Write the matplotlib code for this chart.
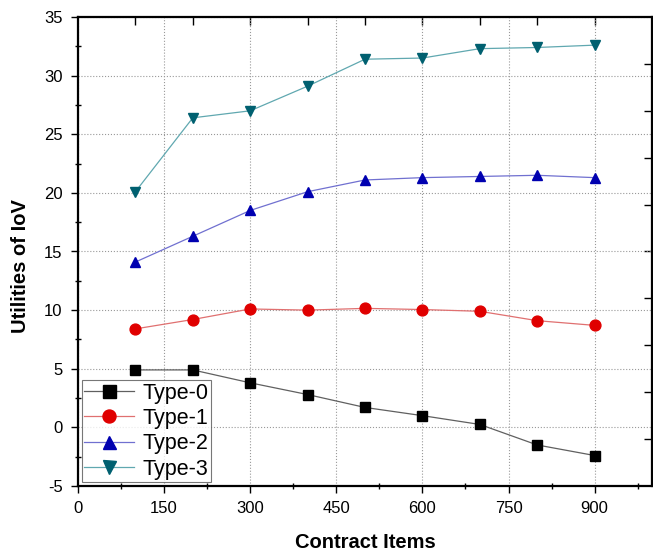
import matplotlib
matplotlib.use("Agg")
import matplotlib.pyplot as plt
import numpy as np

plt.rcParams['font.family'] = ['Liberation Sans', 'DejaVu Sans']
plt.rcParams['axes.unicode_minus'] = False

items = [100, 200, 300, 400, 500, 600, 700, 800, 900]
type0 = [4.9, 4.9, 3.8, 2.8, 1.7, 1.0, 0.25, -1.5, -2.4]
type1 = [8.4, 9.2, 10.1, 10.0, 10.15, 10.05, 9.9, 9.1, 8.7]
type2 = [14.1, 16.3, 18.5, 20.1, 21.1, 21.3, 21.4, 21.5, 21.3]
type3 = [20.1, 26.4, 27.0, 29.1, 31.4, 31.5, 32.3, 32.4, 32.6]

series = [
    ("Type-0", type0, 's', '#000000', '#606060'),
    ("Type-1", type1, 'o', '#e00000', '#e07070'),
    ("Type-2", type2, '^', '#0000b0', '#7070d0'),
    ("Type-3", type3, 'v', '#006070', '#60a8b0'),
]

fig = plt.figure(figsize=(6.53, 5.55), dpi=100)
ax = fig.add_axes([78 / 653, 1 - 486 / 555, 574 / 653, 469 / 555])

for name, vals, mk, mc, lc in series:
    ax.plot(items, vals, color=lc, lw=0.9, marker=mk, ms=7.8,
            markerfacecolor=mc, markeredgecolor=mc, label=name)

ax.set_xlim(0, 1000)
ax.set_ylim(-5, 35)
ax.set_xticks([0, 150, 300, 450, 600, 750, 900])
ax.set_xticks(np.arange(75, 1000, 150), minor=True)
ax.set_yticks(np.arange(-5, 36, 5))
ax.set_yticks(np.arange(-2.5, 35, 5), minor=True)
ax.tick_params(axis='both', which='major', direction='out', length=5, width=1,
               labelsize=12, pad=6, top=False, right=False)
ax.tick_params(axis='both', which='minor', direction='inout', length=4, width=1,
               top=False, right=False)
ax.grid(True, which='major', linestyle=':', color='#999999', lw=0.8)

for s in ax.spines.values():
    s.set_linewidth(1.6)

top = ax.secondary_xaxis('top')
top.set_xticks(items)
top.tick_params(direction='in', length=6, width=1, labeltop=False)
top.spines['top'].set_visible(False)

right = ax.secondary_yaxis('right')
right.set_yticks(np.arange(-1, 35, 4))
right.tick_params(direction='in', length=6, width=1, labelright=False)
right.spines['right'].set_visible(False)

ax.set_xlabel("Contract Items", fontsize=14.5, fontweight='bold', labelpad=12)
ax.set_ylabel("Utilities of IoV", fontsize=14.5, fontweight='bold', labelpad=10)
ax.yaxis.set_label_coords(-0.084, 0.47)

leg = ax.legend(loc='lower left', fontsize=15.5, frameon=True, fancybox=False,
                edgecolor='#555555', borderpad=0.1, handlelength=2.3,
                labelspacing=0.2, handletextpad=0.4, borderaxespad=0.2,
                markerscale=1.2)
leg.get_frame().set_linewidth(0.8)

fig.savefig("out.png", dpi=100)
